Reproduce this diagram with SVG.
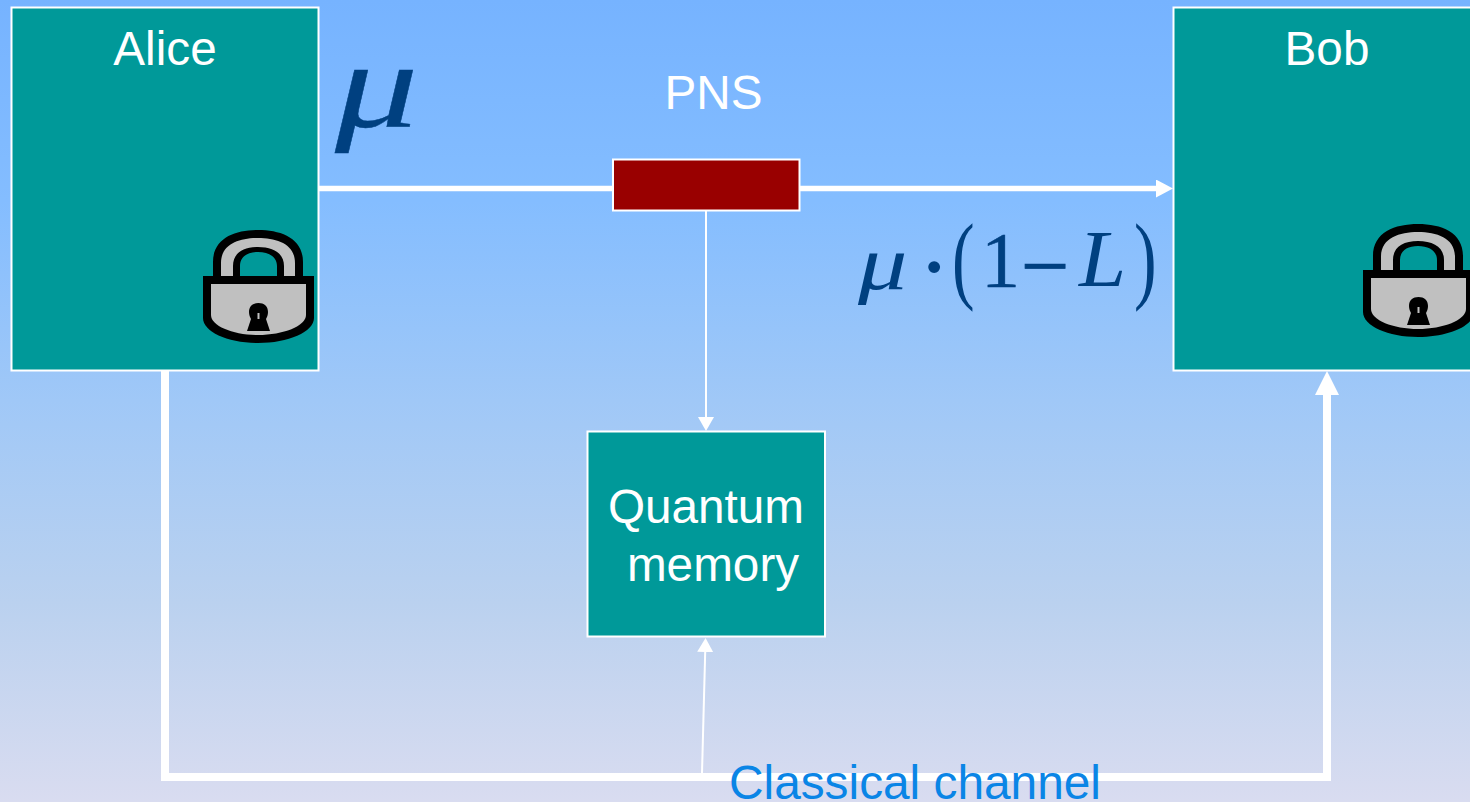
<svg xmlns="http://www.w3.org/2000/svg" width="1470" height="802" viewBox="0 0 1470 802">
<style>
.box{fill:#009999;stroke:#fff;stroke-width:2}
.t{font-family:"Liberation Sans",Arial,sans-serif;font-size:47.7px;fill:#fff}
.m{font-family:"Liberation Serif","Times New Roman",serif;fill:#004080}
.c{fill:none;stroke:#fff}
</style>
<defs>
<linearGradient id="bg" x1="0" y1="0" x2="0" y2="1">
<stop offset="0" stop-color="#76b3ff"/>
<stop offset="0.25" stop-color="#84bdff"/>
<stop offset="0.5" stop-color="#a0c8f7"/>
<stop offset="0.75" stop-color="#bad1ef"/>
<stop offset="1" stop-color="#d9dcf0"/>
</linearGradient>
<marker id="a1" markerUnits="userSpaceOnUse" markerWidth="18" markerHeight="18" refX="0" refY="9" orient="auto"><path d="M0 0L17 9L0 18Z" fill="#fff"/></marker>
<marker id="a2" markerUnits="userSpaceOnUse" markerWidth="15" markerHeight="16" refX="0" refY="8" orient="auto"><path d="M0 0L14 8L0 16Z" fill="#fff"/></marker>
<marker id="a3" markerUnits="userSpaceOnUse" markerWidth="25" markerHeight="24" refX="0" refY="12" orient="auto"><path d="M0 0L24 12L0 24Z" fill="#fff"/></marker>
<g id="lock">
<path d="M10 48V32C10 8 32 0 55 0C78 0 100 8 100 32V48H74V36C74 27 66 22 55 22C44 22 37 27 37 36V48Z" fill="#000"/>
<path d="M18 48V33C18 14 36 8 55 8C74 8 92 14 92 33V48H81V36C81 23 70 17 55 17C40 17 30 23 30 36V48Z" fill="#c0c0c0"/>
<path d="M0 46H111V88C111 102 85 113 55 113C25 113 0 102 0 88Z" fill="#000"/>
<path d="M8 54H103V85C103 96 80 105 55 105C30 105 8 96 8 85Z" fill="#c0c0c0"/>
<path d="M46 82C46 76 50 73 55.500 73C61 73 65 76 65 82C65 85 64 87 63 89L67 101H44L48 89C47 87 46 85 46 82Z" fill="#000"/>
<rect x="54.500" y="83" width="2" height="6" fill="#c0c0c0"/>
</g>
</defs>
<rect width="1470" height="802" fill="url(#bg)"/>
<g id="connectors">
<path class="c" stroke-width="5.500" d="M319 188.500H1156" marker-end="url(#a1)"/>
<path class="c" stroke-width="2" d="M706 210V417" marker-end="url(#a2)"/>
<path class="c" stroke-width="2" d="M702 773L705.200 652" marker-end="url(#a2)"/>
<path class="c" stroke-width="8" d="M165 371V777H1327V395" marker-end="url(#a3)"/>
</g>
<g id="alice"><rect class="box" x="11.500" y="7.500" width="307" height="363"/><text class="t" x="165" y="65" text-anchor="middle">Alice</text><use href="#lock" x="203" y="230"/></g>
<g id="bob"><rect class="box" x="1173.500" y="7.500" width="310" height="363"/><text class="t" x="1327" y="65" text-anchor="middle">Bob</text><use href="#lock" x="1363" y="224"/></g>
<g id="pns"><rect x="613" y="159.500" width="186.500" height="51" fill="#990000" stroke="#fff" stroke-width="2"/><text class="t" x="713.500" y="109" text-anchor="middle">PNS</text></g>
<g id="memory"><rect class="box" x="587.500" y="431.500" width="237.500" height="205"/><text class="t" x="706" y="523" text-anchor="middle">Quantum</text><text class="t" x="713" y="581" text-anchor="middle">memory</text></g>
<g id="classical"><text x="729" y="799" style="font-family:'Liberation Sans',Arial,sans-serif;font-size:47.800px;fill:#0a85e6">Classical channel</text></g>
<g id="math">
<text class="m" transform="translate(335 127) scale(1.36 1)" font-size="122" font-style="italic" stroke="#004080" stroke-width=".4">μ</text>
<text class="m" transform="translate(858 289) scale(1.28 1)" font-size="77" font-style="italic">μ</text>
<text class="m" x="917.500" y="300" font-size="100">·</text>
<text class="m" transform="translate(952 291) scale(.7 1)" font-size="97">(</text>
<text class="m" x="981" y="286" font-size="78" stroke="#004080" stroke-width=".5">1</text>
<text class="m" x="1021" y="295" font-size="86" stroke="#004080" stroke-width=".8">−</text>
<text class="m" transform="translate(1079 286) scale(1.06 1)" font-size="80" font-style="italic">L</text>
<text class="m" transform="translate(1134 291) scale(.7 1)" font-size="97">)</text>
</g>
</svg>
